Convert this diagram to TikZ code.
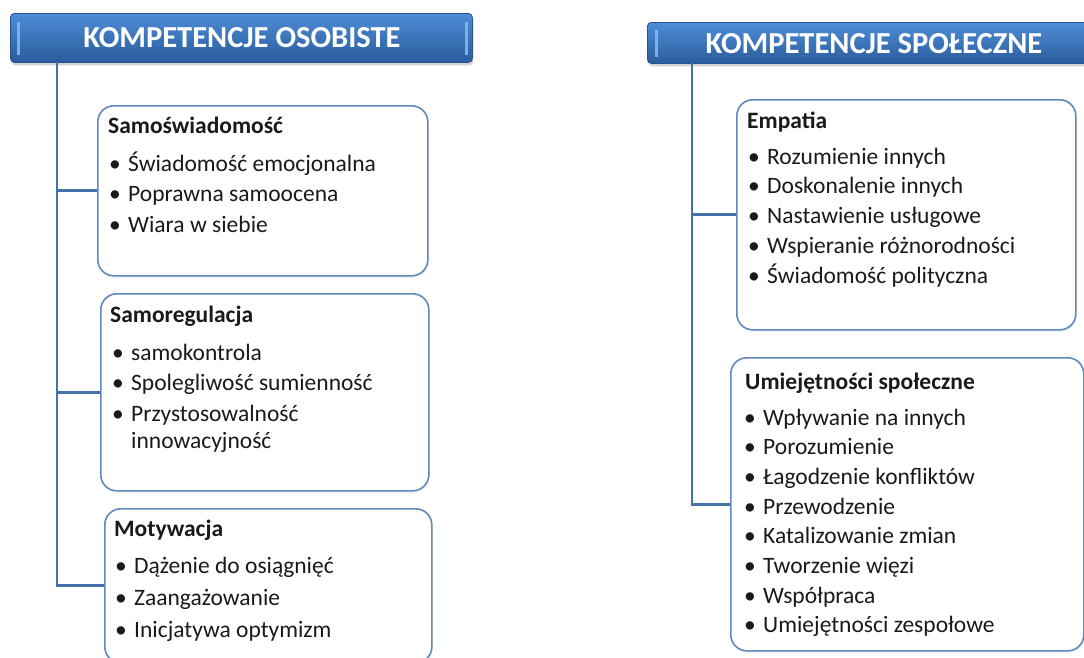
\documentclass[tikz,border=0pt]{standalone}
\usepackage{fontspec}
\setmainfont{Carlito}
\usetikzlibrary{shadows}
\definecolor{hdtop}{HTML}{4E8DD7}
\definecolor{hdmid}{HTML}{3C7AC6}
\definecolor{hdbot}{HTML}{2A5C9C}
\definecolor{hdedge}{HTML}{25548F}
\definecolor{bev}{HTML}{8CC0F2}
\definecolor{connc}{HTML}{4672AC}
\definecolor{boxedge}{HTML}{6089BE}
\definecolor{txt}{HTML}{1A1A1A}
\tikzset{
  header/.style={draw=hdedge, line width=0.8pt, rounded corners=4pt, top color=hdtop, middle color=hdmid, bottom color=hdbot,
    drop shadow={opacity=0.35, shadow xshift=1pt, shadow yshift=-3pt}, inner sep=0pt},
  headtext/.style={text=white, font=\fontsize{30.5}{33}\selectfont\bfseries},
  bevel/.style={draw=bev, opacity=0.8, line width=3pt},
  card/.style={draw=boxedge, line width=1.6pt, fill=white, rounded corners=16pt, inner sep=0pt,
    drop shadow={opacity=0.12, shadow xshift=1pt, shadow yshift=-2pt}},
  connector/.style={draw=connc, line width=2.8pt},
  item/.style={anchor=base west, inner sep=0pt, text=txt, font=\fontsize{23.5}{28}\selectfont},
  ttl/.style={item, font=\fontsize{23.5}{28}\selectfont\bfseries},
}
\newcommand\mylist[5]{\foreach \t [count=\i] in {#5} {\node[item] (#1\i) at ({#2-19}, {#3+#4*(\i-1)}) {\makebox[19pt][l]{•}\t};}}
\begin{document}
\begin{tikzpicture}[x=1pt,y=-1pt]
\useasboundingbox (0,0) rectangle (1084,657);
\clip (0,0) rectangle (1084,657);
% headers
\node[header, minimum width=462pt, minimum height=49pt, anchor=north west] (h1) at (10,13) {};
\node[headtext] (h1t) at (242,38) {KOMPETENCJE OSOBISTE};
\draw[bevel] (18,22) -- (18,55);
\draw[bevel] (466,22) -- (466,55);
\node[header, minimum width=454pt, minimum height=41pt, anchor=north west] (h2) at (647,22) {};
\node[headtext] (h2t) at (874,44) {KOMPETENCJE SPOŁECZNE};
\draw[bevel] (656,30) -- (656,57);
% cards
\node[card, minimum width=330pt, minimum height=170pt, anchor=north west] (c1) at (97,105) {};
\node[card, minimum width=328pt, minimum height=197pt, anchor=north west] (c2) at (100,293) {};
\node[card, minimum width=327pt, minimum height=154pt, anchor=north west] (c3) at (104,508) {};
\node[card, minimum width=339pt, minimum height=230pt, anchor=north west] (c4) at (736,99) {};
\node[card, minimum width=353pt, minimum height=293pt, anchor=north west] (c5) at (730,357) {};
% connectors
\coordinate (s1) at (57,62);
\coordinate (s2) at (692,63);
\draw[connector] (s1) |- (c3.west);
\draw[connector] (s1 |- c1.west) -- (c1.west);
\draw[connector] (s1 |- c2.west) -- (c2.west);
\draw[connector] (s2) |- (c5.west);
\draw[connector] (s2 |- c4.west) -- (c4.west);
% card 1
\node[ttl] (t1) at (108,133) {Samoświadomość};
\mylist{a}{128}{171}{30.5}{Świadomość emocjonalna, Poprawna samoocena, Wiara w siebie}
% card 2
\node[ttl] (t2) at (110,322) {Samoregulacja};
\mylist{b}{131}{360}{30.5}{samokontrola, Spolegliwość sumienność, Przystosowalność}
\node[item] (b4) at (131,448) {innowacyjność};
% card 3
\node[ttl] (t3) at (114,536) {Motywacja};
\mylist{c}{134}{573}{32}{Dążenie do osiągnięć, Zaangażowanie, Inicjatywa optymizm}
% card 4
\node[ttl] (t4) at (747,128) {Empatia};
\mylist{d}{767}{164}{29.8}{Rozumienie innych, Doskonalenie innych, Nastawienie usługowe, Wspieranie różnorodności, Świadomość polityczna}
% card 5
\node[ttl] (t5) at (745,389) {Umiejętności społeczne};
\mylist{e}{763}{425}{29.7}{Wpływanie na innych, Porozumienie, Łagodzenie konfliktów, Przewodzenie, Katalizowanie zmian, Tworzenie więzi, Współpraca, Umiejętności zespołowe}
\end{tikzpicture}
\end{document}
